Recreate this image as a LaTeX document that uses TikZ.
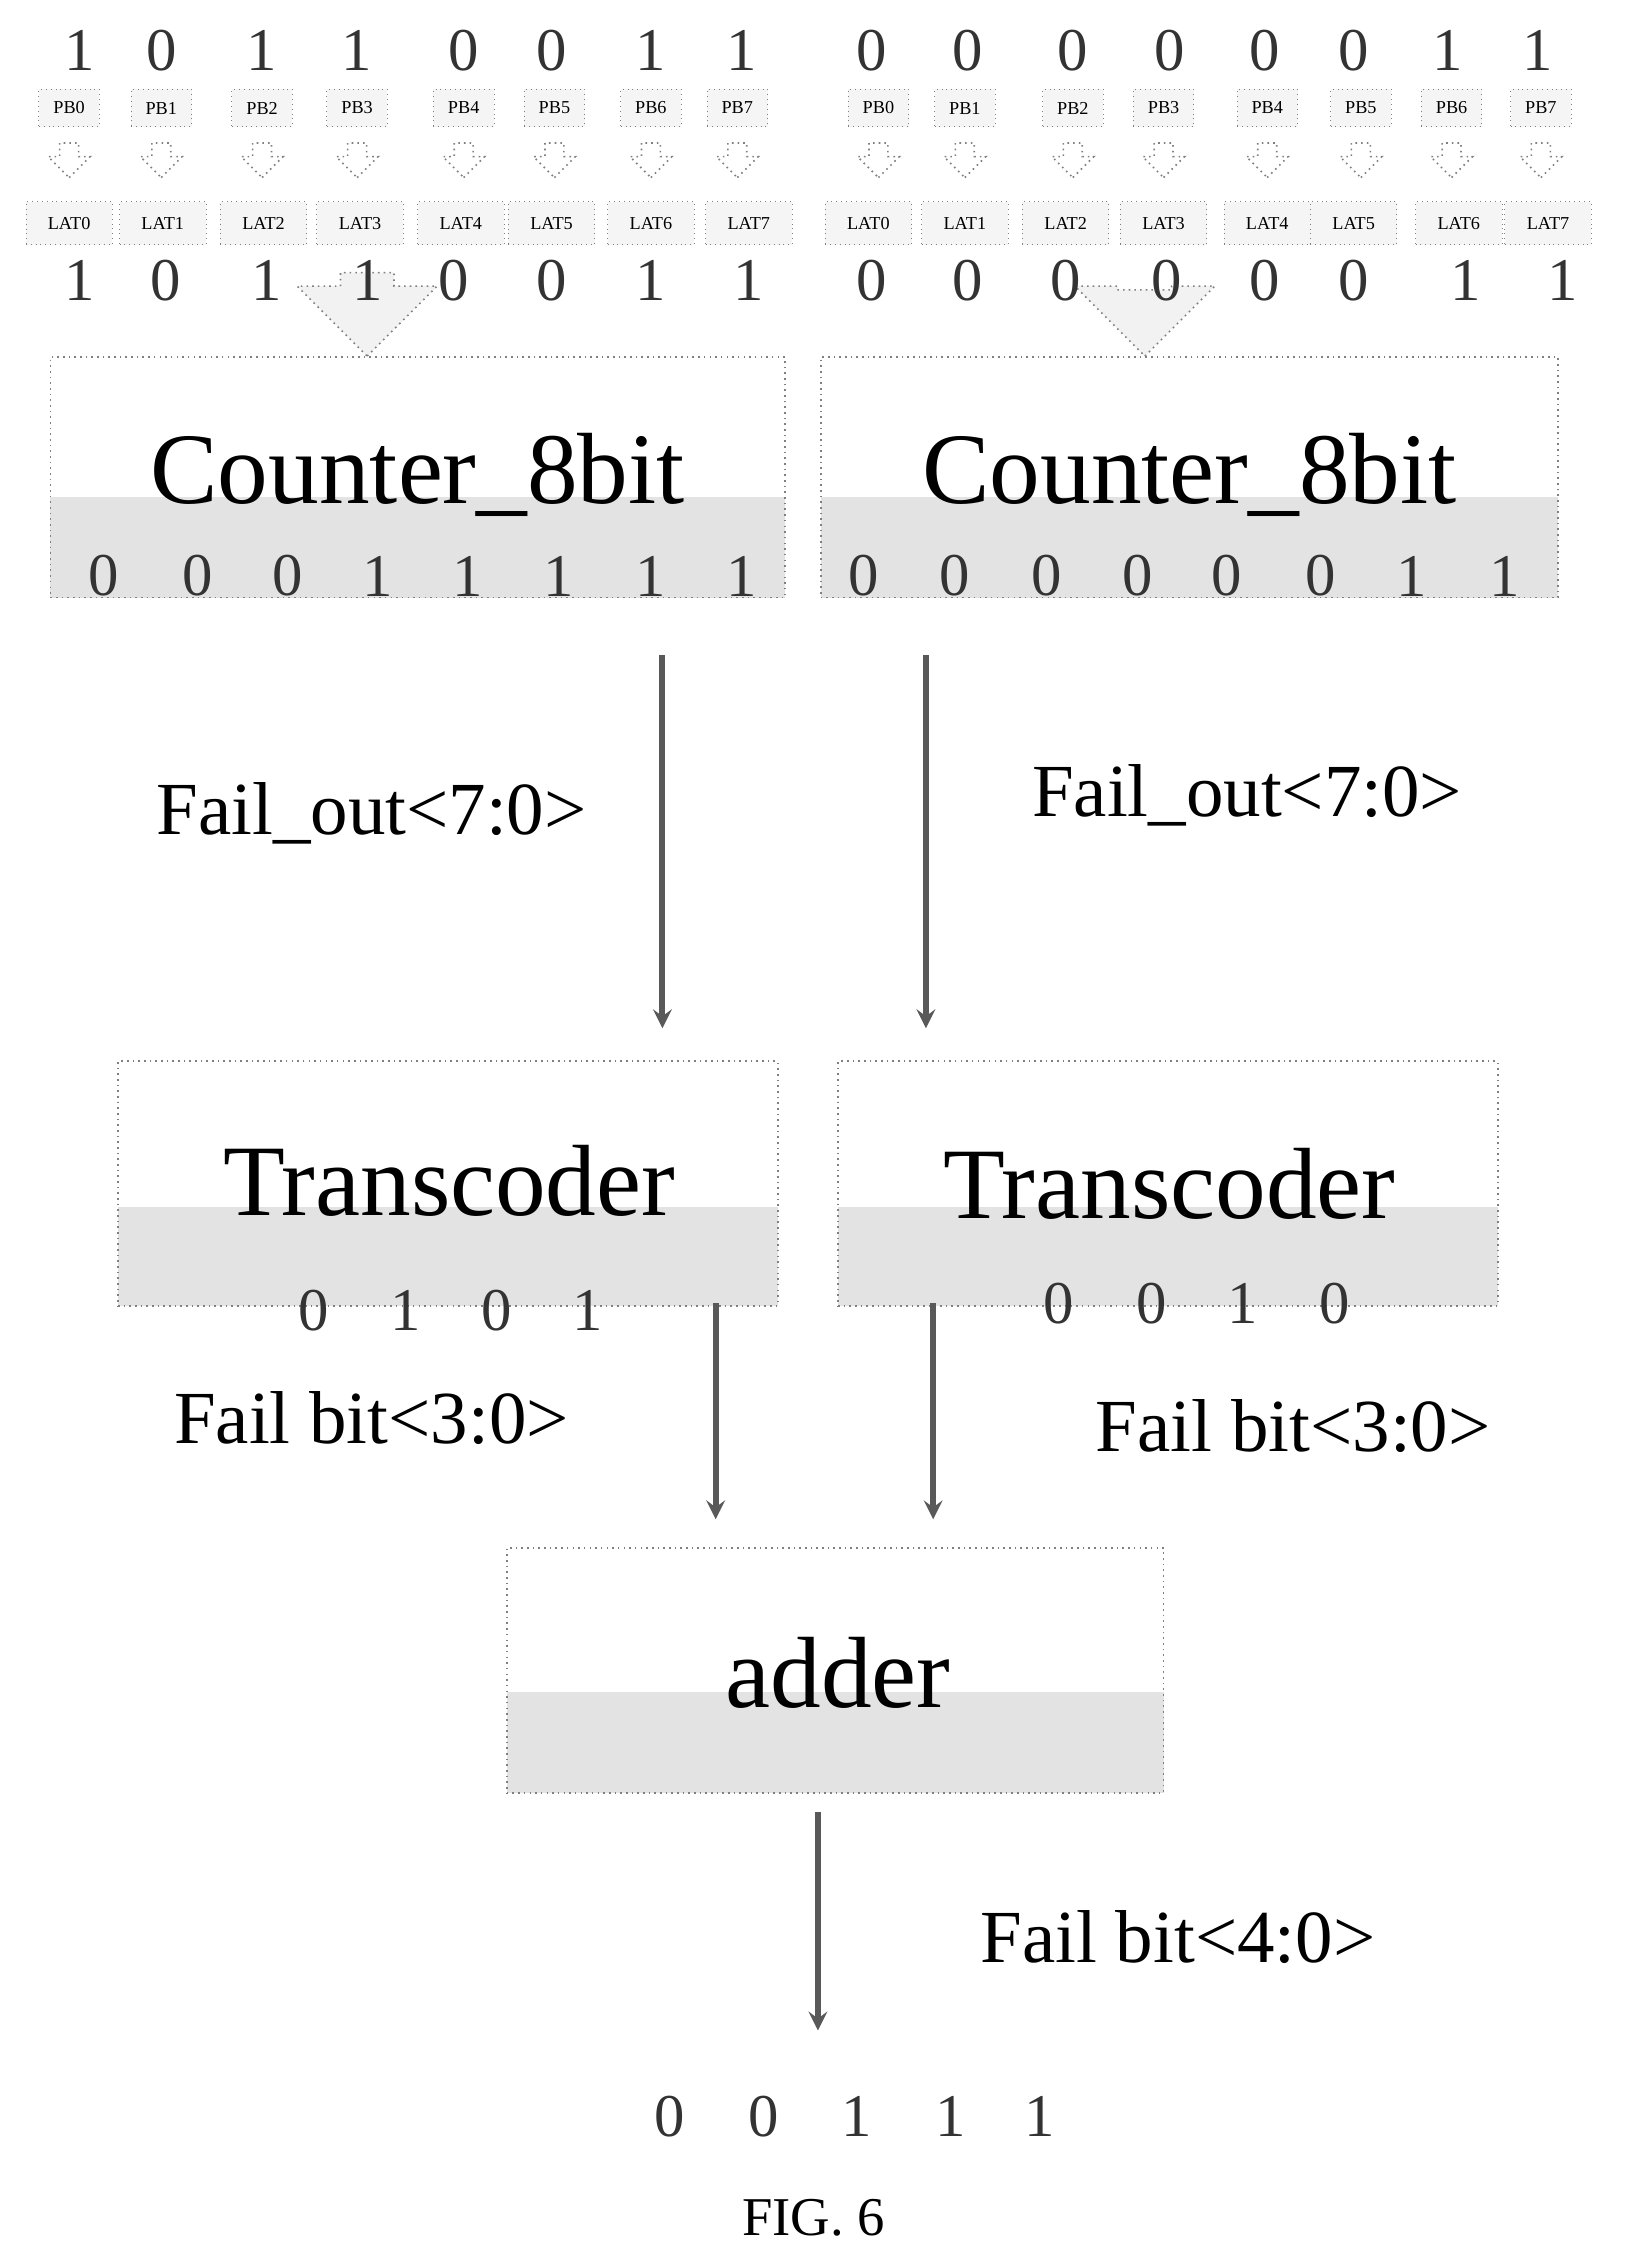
\documentclass[tikz,border=0pt]{standalone}
\usepackage{fontspec}
\setmainfont{Liberation Serif}
\usetikzlibrary{shapes.arrows}
\newcommand{\fsz}[1]{\fontsize{#1}{#1}\selectfont}
\newcommand{\pu}{0.7113pt}

\begin{document}
\begin{tikzpicture}[x=0.025cm, y=-0.025cm, >=stealth,
  bit/.style={font=\fsz{30}, text=black!80},
  tag/.style={draw=gray, dotted, fill=gray!8, inner sep=1pt, font=\fsz{9}},
  blk/.style={draw=gray, dotted, thick, inner sep=0pt},
  shade/.style={fill=gray!22},
  big/.style={font=\fsz{50}},
  lbl/.style={font=\fsz{37}},
  hollow/.style={single arrow, draw=gray, dotted, thick, shape border rotate=270, inner sep=0pt},
  flow/.style={->, line width=3pt, draw=gray!70!black}]
  \useasboundingbox (0,0) rectangle (1130,1568);

  % Input bits, page buffers and latches
  \foreach \x/\b [count=\i from 0] in {55/1,112/0,182/1,248/1,322/0,383/0,452/1,515/1}
    \node[bit] (tl\i) at (\x,35) {\b};
  \foreach \x/\b [count=\i from 0] in {605/0,672/0,745/0,812/0,878/0,940/0,1005/1,1068/1}
    \node[bit] (tr\i) at (\x,35) {\b};
  \foreach \x [count=\i from 0] in {48,112,182,248,322,385,452,512}
    \node[tag, minimum width={42*\pu}, minimum height={26*\pu}] (pbl\i) at (\x,75) {PB\i};
  \foreach \x [count=\i from 0] in {610,670,745,808,880,945,1008,1070}
    \node[tag, minimum width={42*\pu}, minimum height={26*\pu}] (pbr\i) at (\x,75) {PB\i};
  \foreach \x in {48,112,182,248,322,385,452,512,610,670,745,808,880,945,1008,1070}
    \node[hollow, text width={12*\pu}, minimum height={24*\pu}, single arrow head extend={8*\pu}] at (\x,108) {};
  \foreach \x [count=\i from 0] in {48,113,183,250,320,383,452,520}
    \node[tag, minimum width={60*\pu}, minimum height={30*\pu}] (latl\i) at (\x,155) {LAT\i};
  \foreach \x [count=\i from 0] in {603,670,740,808,880,940,1013,1075}
    \node[tag, minimum width={60*\pu}, minimum height={30*\pu}] (latr\i) at (\x,155) {LAT\i};

  % Latched bits
  \node[hollow, fill=gray!10, text width={36*\pu}, minimum height={58*\pu}, single arrow head extend={30*\pu}] at (255,209) {};
  \node[hollow, fill=gray!10, text width={36*\pu}, minimum height={46*\pu}, single arrow head extend={30*\pu}] at (795,215) {};
  \foreach \x/\b [count=\i from 0] in {55/1,115/0,185/1,255/1,315/0,383/0,452/1,520/1}
    \node[bit] (bl\i) at (\x,195) {\b};
  \foreach \x/\b [count=\i from 0] in {605/0,672/0,740/0,810/0,878/0,940/0,1018/1,1085/1}
    \node[bit] (br\i) at (\x,195) {\b};

  % Counters
  \fill[shade] (35,345) rectangle (545,415);
  \fill[shade] (570,345) rectangle (1082,415);
  \node[blk, minimum width={510*\pu}, minimum height={167*\pu}] (cntl) at (290,331.5) {};
  \node[blk, minimum width={512*\pu}, minimum height={167*\pu}] (cntr) at (826,331.5) {};
  \node[big] at (290,330) {Counter\_8bit};
  \node[big] at (826,330) {Counter\_8bit};
  \foreach \x/\b in {72/0,137/0,200/0,262/1,325/1,388/1,452/1,515/1}
    \node[bit] at (\x,400) {\b};
  \foreach \x/\b in {600/0,663/0,727/0,790/0,852/0,917/0,980/1,1045/1}
    \node[bit] at (\x,400) {\b};

  % Transcoders
  \fill[shade] (82,838) rectangle (540,907);
  \fill[shade] (582,838) rectangle (1040,907);
  \node[blk, minimum width={458*\pu}, minimum height={170*\pu}] (trl) at (311,822) {};
  \node[blk, minimum width={458*\pu}, minimum height={170*\pu}] (trr) at (811,822) {};
  \node[big] at (312,820) {Transcoder};
  \node[big] at (812,822) {Transcoder};
  \foreach \x/\b in {218/0,282/1,345/0,408/1}
    \node[bit] at (\x,910) {\b};
  \foreach \x/\b in {735/0,800/0,863/1,927/0}
    \node[bit] at (\x,905) {\b};

  % Adder
  \fill[shade] (352,1175) rectangle (808,1245);
  \node[blk, minimum width={456*\pu}, minimum height={170*\pu}] (add) at (580,1160) {};
  \node[big] at (582,1162) {adder};

  % Connections
  \coordinate (o1) at (460,455);  \coordinate (o2) at (643,455);
  \coordinate (i1) at (460,714);  \coordinate (i2) at (643,714);
  \draw[flow] (o1) -- (i1);
  \draw[flow] (o2) -- (i2);
  \coordinate (f1) at (497,905);  \coordinate (f2) at (648,905);
  \coordinate (g1) at (497,1055); \coordinate (g2) at (648,1055);
  \draw[flow] (f1) -- (g1);
  \draw[flow] (f2) -- (g2);
  \coordinate (s1) at (568,1258); \coordinate (s2) at (568,1410);
  \draw[flow] (s1) -- (s2);

  \node[lbl] at (258,565) {Fail\_out<7:0>};
  \node[lbl] at (866,552) {Fail\_out<7:0>};
  \node[lbl] at (258,985) {Fail bit<3:0>};
  \node[lbl] at (898,990) {Fail bit<3:0>};
  \node[lbl] at (818,1345) {Fail bit<4:0>};

  % Result
  \foreach \x/\b in {465/0,530/0,595/1,660/1,722/1}
    \node[bit] at (\x,1470) {\b};
  \node[font=\fsz{27}] at (565,1540) {FIG. 6};
\end{tikzpicture}
\end{document}
